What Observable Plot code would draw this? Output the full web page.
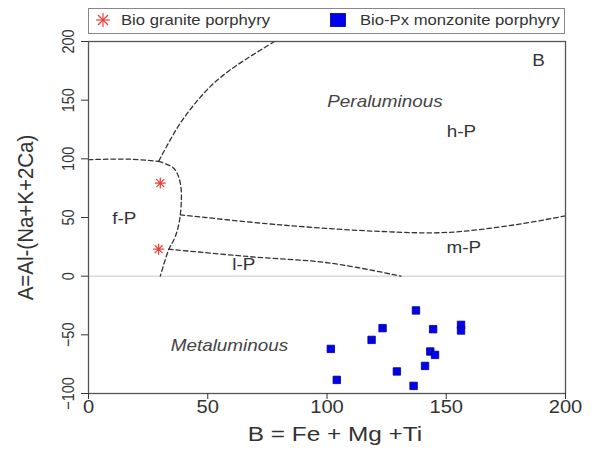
<!DOCTYPE html>
<html><head><meta charset="utf-8">
<script src="https://cdn.jsdelivr.net/npm/d3@7"></script>
<script src="https://cdn.jsdelivr.net/npm/@observablehq/plot@0.6"></script>
<style>
body{margin:0;background:#fff;font-family:"Liberation Sans",Arial,sans-serif;}
#wrap{position:relative;width:602px;height:453px;}
#legend{position:absolute;left:88px;top:8px;width:475px;height:24px;border:1.5px solid #888;font-size:15px;color:#333;background:#fff;z-index:2;}
#legend .sym{position:absolute;}
#legend .lab{position:absolute;top:2px;transform:scaleX(1.11);transform-origin:left center;white-space:nowrap;}
#chart{position:absolute;left:0;top:0;}
</style></head>
<body>
<div id="wrap">
<div id="chart"></div>
<div id="legend">
  <svg class="sym" style="left:6px;top:3px" width="16" height="16" viewBox="-8 -8 16 16"><g stroke="#e8413c" stroke-width="1.2"><line x1="0" y1="-7" x2="0" y2="7"/><line x1="-7" y1="0" x2="7" y2="0"/><line x1="-5" y1="-5" x2="5" y2="5"/><line x1="-5" y1="5" x2="5" y2="-5"/></g></svg>
  <span class="lab" style="left:32px">Bio granite porphyry</span>
  <svg class="sym" style="left:241px;top:4px" width="16" height="14"><rect x="0.5" y="0.5" width="15" height="13" fill="#0000ee" stroke="#00008b" stroke-width="0.8"/></svg>
  <span class="lab" style="left:271px">Bio-Px monzonite porphyry</span>
</div>
</div>
<script>
// Samples
const granX = [30.1, 29.4];
const granY = [79.3, 23];
const monzX = [137.3, 123.3, 144.5, 156.2, 156.2, 118.7, 101.6, 143.3, 145.3, 141.1, 129.3, 104.1, 136.3];
const monzY = [-29.2, -44.3, -45.2, -41.5, -46.3, -54.3, -62, -64.2, -67.1, -76.5, -81.2, -88.4, -93.5];

// Field boundaries
const b1X = [78, 59.5, 49.7, 38.5, 29.4];
const b1Y = [200, 175.9, 158.8, 130.4, 97.8];
const b2X = [0, 17.5, 29.4];
const b2Y = [99.3, 99.7, 97.8];
const b3X = [29.4, 35.7, 38.5, 38.5, 36.4, 33.6, 30.1];
const b3Y = [97.8, 92, 79.3, 52.3, 33.8, 22.4, 0];
const b4X = [38.5, 80.5, 122.6, 150.6, 178.6, 200];
const b4Y = [52.3, 43.7, 38.1, 37.3, 43.7, 51.4];
const b5X = [33.6, 66.6, 101.6, 131];
const b5Y = [23, 16.8, 11.1, 0];

// Field labels
const labText = ["Peraluminous", "h-P", "f-P", "m-P", "l-P", "Metaluminous", "B"];
const labX = [124.3, 156.4, 15, 157.4, 65.1, 59.1, 188.7];
const labY = [148.3, 123.4, 48.9, 23.9, 9.6, -59.4, 183.7];
const labItalic = [true, false, false, false, false, true, false];

const xTicks = [0, 50, 100, 150, 200];
const yTicks = [-100, -50, 0, 50, 100, 150, 200];

const zip = (xs, ys) => xs.map((x, i) => ({x, y: ys[i]}));
const gran = zip(granX, granY);
const monz = zip(monzX, monzY);
const bounds = [[b1X,b1Y],[b2X,b2Y],[b3X,b3Y],[b4X,b4Y],[b5X,b5Y]].map(([a,b]) => zip(a,b));
const labs = labText.map((t, i) => ({t, x: labX[i], y: labY[i], it: labItalic[i]}));

// eight-armed asterisk symbol
const star8 = {
  draw(ctx, size) {
    const r = Math.sqrt(size / Math.PI), d = r * 0.72;
    ctx.moveTo(0, -r); ctx.lineTo(0, r);
    ctx.moveTo(-r, 0); ctx.lineTo(r, 0);
    ctx.moveTo(-d, -d); ctx.lineTo(d, d);
    ctx.moveTo(-d, d); ctx.lineTo(d, -d);
  }
};

const plot = Plot.plot({
  width: 602,
  height: 453,
  marginTop: 41,
  marginBottom: 60,
  marginLeft: 88,
  marginRight: 37,
  style: {fontFamily: "Liberation Sans, Arial, sans-serif", fontSize: "15px", color: "#333", background: "transparent"},
  x: {domain: [0, 200]},
  y: {domain: [-100, 200]},
  marks: [
    Plot.ruleY([0], {stroke: "#c8c8c8", strokeWidth: 1}),
    ...bounds.map(b => Plot.line(b, {x: "x", y: "y", curve: "catmull-rom", stroke: "#333", strokeWidth: 1.3, strokeDasharray: "4.5,3"})),
    Plot.text(labs.filter(d => d.it), {x: "x", y: "y", text: "t", fontSize: 16, fontStyle: "italic", fill: "#444"}),
    Plot.text(labs.filter(d => !d.it), {x: "x", y: "y", text: "t", fontSize: 16, fill: "#333"}),
    Plot.dot(gran, {x: "x", y: "y", symbol: star8, r: 5.5, fill: "none", stroke: "#e8413c", strokeWidth: 1.2}),
    Plot.dot(monz, {x: "x", y: "y", symbol: "square", r: 4.2, fill: "#0000ee", stroke: "#00008b", strokeWidth: 0.8}),
    Plot.frame({stroke: "#555", strokeWidth: 1.3}),
    Plot.axisX({ticks: xTicks, tickSize: 6, tickPadding: 1, fontSize: 18, label: "B = Fe + Mg +Ti", labelAnchor: "center", labelArrow: "none", labelOffset: 47}),
    Plot.axisY({ticks: yTicks, tickSize: 7, tickPadding: 8, fontSize: 14.5, tickRotate: -90, label: "A=Al-(Na+K+2Ca)", labelAnchor: "center", labelArrow: "none", labelOffset: 70})
  ]
});
document.getElementById("chart").appendChild(plot);

// Widen the lettering horizontally, as in the reference picture
const stretch = {"x-axis tick label": 1.12, "y-axis tick label": 1.18, "x-axis label": 1.25, "y-axis label": 1.05, "text": 1.18};
const shiftX = {"x-axis label": 8};
const axisFont = {"x-axis label": 19.5, "y-axis label": 20.5};
plot.querySelectorAll("g[aria-label]").forEach(g => {
  const key = g.getAttribute("aria-label");
  if (axisFont[key]) g.setAttribute("font-size", axisFont[key]);
});
plot.querySelectorAll("text").forEach(t => {
  const g = t.closest("g[aria-label]");
  if (!g) return;
  const key = g.getAttribute("aria-label");
  const s = stretch[key];
  if (!s) return;
  const dx = shiftX[key] || 0;
  const r = t.getBoundingClientRect();
  const parent = t.parentNode;
  const m = parent.getScreenCTM().inverse();
  const p = new DOMPoint(r.left + r.width / 2, r.top + r.height / 2).matrixTransform(m);
  const w = document.createElementNS("http://www.w3.org/2000/svg", "g");
  w.setAttribute("transform", `translate(${p.x + dx},${p.y}) scale(${s},1) translate(${-p.x},${-p.y})`);
  parent.insertBefore(w, t);
  w.appendChild(t);
});
</script>
</body></html>
